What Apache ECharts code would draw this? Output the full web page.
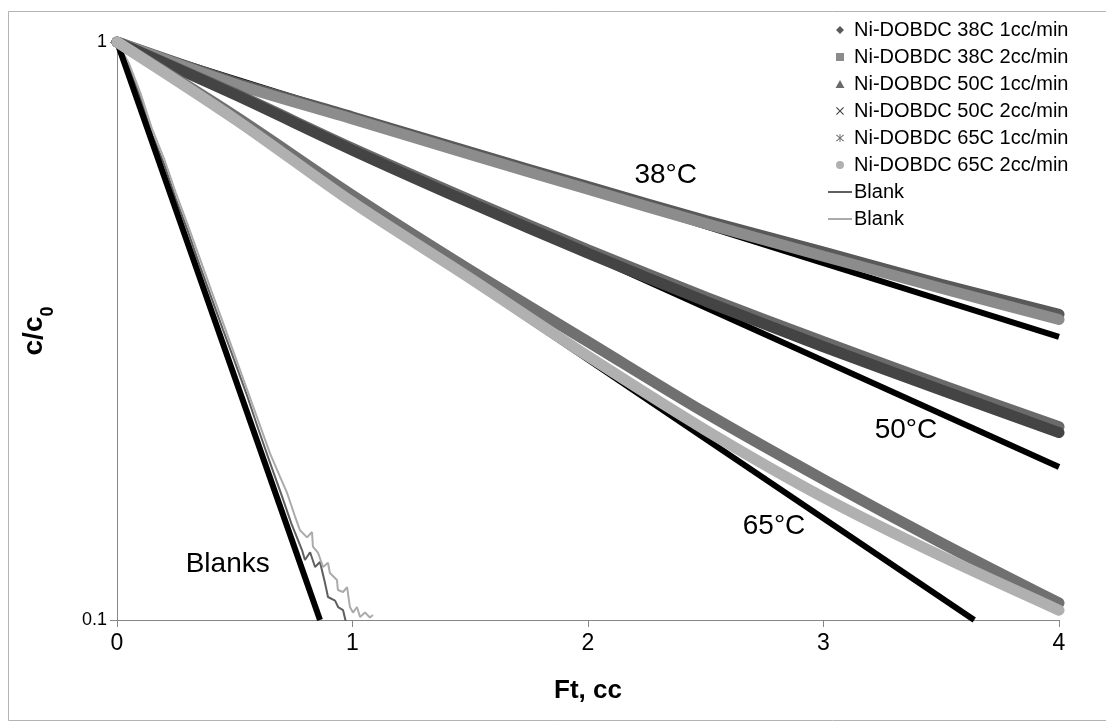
<!DOCTYPE html>
<html>
<head>
<meta charset="utf-8">
<script src="https://cdn.jsdelivr.net/npm/echarts@6.0.0/dist/echarts.min.js"></script>
<style>
    html, body { margin: 0; padding: 0; background: #fff; }
    #chart { width: 1106px; height: 728px; }
</style>
</head>
<body>
<div id="chart"></div>
<script>
// x positions (Ft, cc) where the data curves were read
const ftPoints = [0, 0.5, 1, 1.5, 2, 2.5, 3, 3.5, 4];

// c/c0
const ni38c1 = [1, 0.852, 0.742, 0.645, 0.562, 0.491, 0.433, 0.381, 0.338];
const ni38c2 = [1, 0.846, 0.736, 0.639, 0.556, 0.485, 0.426, 0.375, 0.331];
const ni50c1 = [1, 0.815, 0.655, 0.533, 0.437, 0.362, 0.303, 0.255, 0.216];
const ni50c2 = [1, 0.811, 0.650, 0.527, 0.431, 0.356, 0.297, 0.250, 0.211];
const ni65c1 = [1, 0.745, 0.543, 0.403, 0.303, 0.228, 0.175, 0.136, 0.107];
const ni65c2 = [1, 0.736, 0.528, 0.390, 0.286, 0.213, 0.163, 0.129, 0.104];

// blank runs (noisy), [Ft, c/c0]
const blankDark = [
    [0, 1], [0.05, 0.91], [0.1, 0.80], [0.15, 0.69], [0.2, 0.615], [0.25, 0.535],
    [0.3, 0.472], [0.35, 0.412], [0.4, 0.362], [0.45, 0.318], [0.5, 0.28], [0.55, 0.246],
    [0.6, 0.214], [0.65, 0.187], [0.7, 0.164], [0.74, 0.147], [0.77, 0.137], [0.786, 0.132],
    [0.798, 0.127], [0.82, 0.131], [0.841, 0.1235], [0.862, 0.126], [0.883, 0.116],
    [0.896, 0.1096], [0.926, 0.108], [0.939, 0.1053], [0.96, 0.104], [0.975, 0.098]
];
const blankLight = [
    [0, 1], [0.05, 0.92], [0.1, 0.815], [0.15, 0.705], [0.2, 0.628], [0.25, 0.548],
    [0.3, 0.483], [0.35, 0.424], [0.4, 0.372], [0.45, 0.327], [0.5, 0.287], [0.55, 0.252],
    [0.6, 0.221], [0.65, 0.194], [0.692, 0.177], [0.722, 0.166], [0.756, 0.151],
    [0.777, 0.143], [0.807, 0.139], [0.828, 0.142], [0.832, 0.134], [0.854, 0.1306],
    [0.875, 0.1235], [0.896, 0.1256], [0.904, 0.1206], [0.934, 0.1173], [0.938, 0.1127],
    [0.96, 0.1118], [0.977, 0.114], [0.989, 0.1053], [1.002, 0.103], [1.019, 0.1053],
    [1.032, 0.1012], [1.053, 0.103], [1.074, 0.101], [1.087, 0.102]
];

// model lines (straight on the log axis)
const fit38 = [[0, 1], [4, 0.309]];
const fit50 = [[0, 1], [4, 0.184]];
const fit65 = [[0, 1], [3.64, 0.1]];
const fitBlank = [[0, 1], [0.862, 0.1]];

// text annotations, in data coordinates
const notes = [
    { text: '38°C', at: [2.33, 0.589] },
    { text: '50°C', at: [3.35, 0.213] },
    { text: '65°C', at: [2.79, 0.145] },
    { text: 'Blanks', at: [0.47, 0.125] }
];

const FONT = '"Liberation Sans", Arial, sans-serif';

const icons = {
    diamond: 'path://M5,0 L10,5 L5,10 L0,5 Z',
    square: 'path://M0,0 L10,0 L10,10 L0,10 Z',
    triangle: 'path://M5,0 L10,9 L0,9 Z',
    cross: 'path://M0,1 L1,0 L5,4 L9,0 L10,1 L6,5 L10,9 L9,10 L5,6 L1,10 L0,9 L4,5 Z',
    star: 'path://M0,1.5 L1,0.5 L5,4.3 L9,0.5 L10,1.5 L6,5 L10,8.5 L9,9.5 L5,5.7 L1,9.5 L0,8.5 L4,5 Z M4.4,0 L5.6,0 L5.6,10 L4.4,10 Z',
    circle: 'path://M5,0 A5,5 0 1,1 4.99,0 Z',
    line: 'path://M0,0 L24,0 L24,2 L0,2 Z'
};

const dataSeries = [
    { name: 'Ni-DOBDC 38C 1cc/min', values: ni38c1, color: '#595959', icon: icons.diamond },
    { name: 'Ni-DOBDC 38C 2cc/min', values: ni38c2, color: '#8c8c8c', icon: icons.square },
    { name: 'Ni-DOBDC 50C 1cc/min', values: ni50c1, color: '#6a6a6a', icon: icons.triangle },
    { name: 'Ni-DOBDC 50C 2cc/min', values: ni50c2, color: '#444444', icon: icons.cross },
    { name: 'Ni-DOBDC 65C 1cc/min', values: ni65c1, color: '#707070', icon: icons.star },
    { name: 'Ni-DOBDC 65C 2cc/min', values: ni65c2, color: '#b0b0b0', icon: icons.circle }
];

const series = [];

function fitLine(name, pts) {
    return {
        name: name,
        type: 'line',
        data: pts,
        showSymbol: false,
        silent: true,
        lineStyle: { color: '#000', width: 6 },
        itemStyle: { color: '#000' },
        z: 2
    };
}

series.push(fitLine('fit38', fit38));
series.push(fitLine('fit50', fit50));
series.push(fitLine('fit65', fit65));

series.push({
    name: 'Blank', type: 'line', data: blankDark, showSymbol: false,
    lineStyle: { color: '#5f5f5f', width: 2 }, itemStyle: { color: '#5f5f5f' }, z: 2
});
series.push({
    name: 'Blank ', type: 'line', data: blankLight, showSymbol: false,
    lineStyle: { color: '#ababab', width: 2 }, itemStyle: { color: '#ababab' }, z: 2
});
series.push(fitLine('fitBlank', fitBlank));

dataSeries.forEach(s => {
    series.push({
        name: s.name,
        type: 'line',
        data: ftPoints.map((x, i) => [x, s.values[i]]),
        showSymbol: false,
        smooth: 0.3,
        lineStyle: { color: s.color, width: 11, cap: 'round' },
        itemStyle: { color: s.color },
        z: 3
    });
});

const legendData = dataSeries.map(s => ({ name: s.name, icon: s.icon }))
    .concat([{ name: 'Blank', icon: icons.line }, { name: 'Blank ', icon: icons.line }]);

const chart = echarts.init(document.getElementById('chart'), null, { renderer: 'canvas' });

chart.setOption({
    animation: false,
    backgroundColor: '#fff',
    grid: { left: 117, right: 47, top: 42, bottom: 108 },
    legend: {
        data: legendData,
        orient: 'vertical',
        left: 823,
        top: 15,
        itemWidth: 24,
        itemHeight: 8,
        itemGap: 7,
        selectedMode: false,
        formatter: name => name.trim(),
        textStyle: { fontFamily: FONT, fontSize: 20, color: '#000', lineHeight: 20, padding: [0, 0, 0, -3] }
    },
    xAxis: {
        type: 'value',
        min: 0,
        max: 4,
        interval: 1,
        name: 'Ft, cc',
        nameLocation: 'middle',
        nameGap: 58,
        nameTextStyle: { fontFamily: FONT, fontSize: 26, fontWeight: 'bold', color: '#000' },
        axisLine: { show: true, lineStyle: { color: '#868686', width: 1 } },
        axisTick: { show: true, inside: false, length: 7, lineStyle: { color: '#868686' } },
        axisLabel: {
            show: true,
            margin: 12,
            formatter: v => '{t|' + v + '}',
            rich: { t: { fontFamily: FONT, fontSize: 23, color: '#000' } }
        },
        splitLine: { show: false }
    },
    yAxis: {
        type: 'log',
        logBase: 10,
        min: 0.1,
        max: 1,
        name: '{a|c/c}{b|0}',
        nameLocation: 'middle',
        nameGap: 66,
        nameTextStyle: {
            rich: {
                a: { fontFamily: FONT, fontSize: 28, fontWeight: 'bold', color: '#000', lineHeight: 34 },
                b: { fontFamily: FONT, fontSize: 18, fontWeight: 'bold', color: '#000', lineHeight: 34, verticalAlign: 'bottom', padding: [0, 0, -6, 0] }
            }
        },
        axisLine: { show: true, lineStyle: { color: '#868686', width: 1 } },
        axisTick: { show: true, inside: false, length: 7, lineStyle: { color: '#868686' } },
        axisLabel: {
            show: true,
            margin: 10,
            formatter: v => '{t|' + v + '}',
            rich: { t: { fontFamily: FONT, fontSize: 18, color: '#000' } }
        },
        splitLine: { show: false }
    },
    series: series
});

// chart frame and annotations
const graphics = [{
    type: 'rect',
    shape: { x: 8.5, y: 11.5, width: 1110, height: 709 },
    style: { fill: null, stroke: '#b3b3b3', lineWidth: 1 },
    silent: true,
    z: -1
}];
notes.forEach(n => {
    const p = chart.convertToPixel({ gridIndex: 0 }, n.at);
    graphics.push({
        type: 'text',
        x: p[0],
        y: p[1],
        silent: true,
        style: {
            text: n.text,
            fontFamily: FONT,
            fontSize: 28,
            fill: '#000',
            align: 'center',
            verticalAlign: 'middle'
        },
        z: 10
    });
});
chart.setOption({ graphic: graphics });
</script>
</body>
</html>
